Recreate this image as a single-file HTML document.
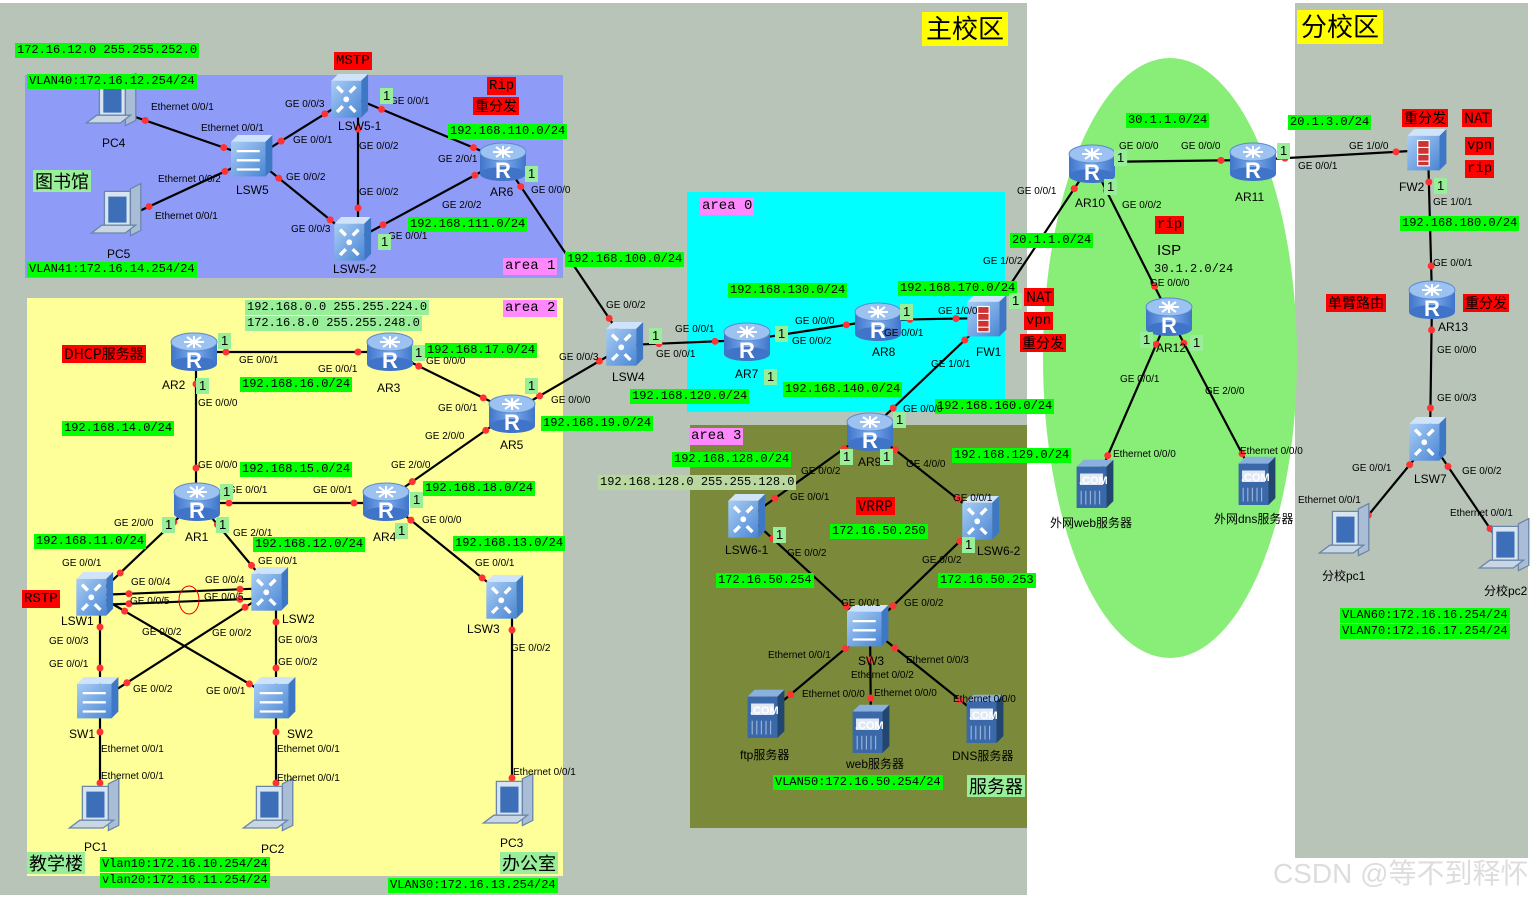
<!DOCTYPE html>
<html><head><meta charset="utf-8">
<style>
body{margin:0;width:1537px;height:898px;overflow:hidden;background:#fff;position:relative;font-family:"Liberation Sans","Noto Sans CJK SC",sans-serif}
.a{position:absolute}
.g,.r,.p,.lg{position:absolute;font-family:"Liberation Mono","Noto Sans CJK SC",monospace;font-size:12px;line-height:15px;padding:0 2px;white-space:nowrap;color:#000}
.g{background:#00ff00}
.lg{background:#99ee99}
.r{background:#ff0000;font-size:14px;line-height:18px}
.p{background:#ff88ff;font-size:14px;line-height:17px}
.t{position:absolute;font-size:10px;white-space:nowrap;color:#000;line-height:11px}
.n{position:absolute;font-size:12px;white-space:nowrap;color:#000}
.y{position:absolute;background:#ffff00;font-size:26px;line-height:34px;padding:0 4px;font-family:"Liberation Sans","Noto Sans CJK SC",sans-serif}
.big{position:absolute;background:#99ee99;font-size:18px;line-height:22px;padding:0 2px;font-family:"Noto Sans CJK SC",sans-serif}
.one{position:absolute;background:#99ee99;font-size:13px;line-height:16px;padding:0 3px}
</style></head><body>
<svg class="a" style="left:0;top:0" width="1537" height="898" viewBox="0 0 1537 898">
<defs>
<linearGradient id="rg" x1="0" x2="1"><stop offset="0" stop-color="#3f74c8"/><stop offset=".5" stop-color="#7eaef0"/><stop offset="1" stop-color="#3f74c8"/></linearGradient>
<linearGradient id="sg" x1="0" y1="0" x2="1" y2="1"><stop offset="0" stop-color="#a8cdf5"/><stop offset="1" stop-color="#4a86d4"/></linearGradient>
<g id="rt"><rect x="-23" y="-8" width="46" height="22" fill="url(#rg)"/><ellipse cx="0" cy="14" rx="23" ry="7" fill="#3f74c8"/><ellipse cx="0" cy="-8" rx="23" ry="9" fill="#9cc2f2" stroke="#5a8ad0"/><path d="M-10 -8h20M0 -14v12M-7 -13l14 10M7 -13l-14 10" stroke="#fff" stroke-width="2"/></g>
<g id="sw"><g transform="scale(1.15)"><path d="M-18 -14l6 -6h26l-6 6z" fill="#cfe3fa"/><path d="M8 -14l6 -6v32l-6 6z" fill="#3e78c4"/><rect x="-18" y="-14" width="26" height="32" fill="url(#sg)"/><path d="M-13 -9l5 5M3 -9l-5 5M-13 13l5 -5M3 13l-5 -5" stroke="#fff" stroke-width="3"/><circle cx="-5" cy="2" r="2.5" fill="#fff"/></g></g>
<g id="l2"><g transform="scale(1.15)"><path d="M-20 -14l6 -6h30l-6 6z" fill="#cfe3fa"/><path d="M10 -14l6 -6v30l-6 6z" fill="#3e78c4"/><rect x="-20" y="-14" width="30" height="30" fill="url(#sg)"/><path d="M-15 -6h20M-15 2h20M-15 10h20" stroke="#fff" stroke-width="2"/></g></g>
<g id="fw"><g transform="scale(1.15)"><path d="M-18 -14l6 -6h28l-6 6z" fill="#cfe3fa"/><path d="M10 -14l6 -6v30l-6 6z" fill="#3e78c4"/><rect x="-18" y="-14" width="28" height="30" fill="url(#sg)"/><rect x="-9" y="-10" width="10" height="22" fill="#c33" stroke="#fff"/><path d="M-9 -4h10M-9 2h10M-9 8h10" stroke="#fff"/></g></g>
<g id="pc"><g transform="scale(1.3)"><path d="M-12 -22h20v28h-20z" fill="#d8e4f0" stroke="#6a86a8"/><rect x="-9" y="-18" width="14" height="20" fill="#3c6fb8"/><path d="M8 -24l8 -4v36l-8 4z" fill="#a9bdd6" stroke="#6a86a8"/><path d="M-22 10h26l8 -6h-26z" fill="#c9d6e6" stroke="#6a86a8"/></g></g>
<g id="sv"><g transform="scale(1.15)"><path d="M-16 -16l6 -6h26l-6 6z" fill="#8ab0dd"/><path d="M10 -16l6 -6v36l-6 6z" fill="#23466f"/><rect x="-16" y="-16" width="26" height="36" fill="#3a68a8"/><rect x="-13" y="-10" width="20" height="10" fill="#dfe8f4"/><path d="M-12 5v12M-8 5v12M-4 5v12M0 5v12M4 5v12" stroke="#9bb4d8"/></g></g>
</defs>
<rect x="0" y="3" width="1027" height="892" fill="#b9c4b9"/>
<rect x="1295" y="3" width="233" height="855" fill="#b9c4b9"/>
<rect x="25" y="75" width="538" height="203" fill="#8e9cf8"/>
<rect x="27" y="298" width="536" height="578" fill="#ffff99"/>
<rect x="687" y="192" width="318" height="220" fill="#00ffff"/>
<rect x="690" y="425" width="337" height="403" fill="#7a8a3a"/>
<ellipse cx="1170" cy="358" rx="127" ry="300" fill="#88ee77"/>
<g stroke="#000" stroke-width="2.2" fill="none" id="lines">
<line x1="115" y1="110" x2="254" y2="158"/><line x1="120" y1="220" x2="254" y2="158"/>
<line x1="254" y1="158" x2="352" y2="97"/><line x1="254" y1="158" x2="355" y2="240"/>
<line x1="358" y1="97" x2="358" y2="240"/><line x1="352" y1="97" x2="503" y2="160"/>
<line x1="355" y1="240" x2="503" y2="160"/><line x1="503" y1="160" x2="627" y2="345"/>
<line x1="627" y1="345" x2="512" y2="412"/><line x1="627" y1="345" x2="747" y2="340"/>
<line x1="747" y1="340" x2="878" y2="320"/><line x1="878" y1="320" x2="988" y2="318"/>
<line x1="988" y1="318" x2="1092" y2="162"/><line x1="988" y1="318" x2="870" y2="430"/>
<line x1="1092" y1="162" x2="1253" y2="160"/><line x1="1092" y1="162" x2="1169" y2="315"/>
<line x1="1253" y1="160" x2="1428" y2="150"/><line x1="1428" y1="150" x2="1432" y2="298"/>
<line x1="1432" y1="298" x2="1430" y2="440"/><line x1="1430" y1="440" x2="1348" y2="540"/>
<line x1="1430" y1="440" x2="1508" y2="555"/><line x1="1169" y1="315" x2="1095" y2="485"/>
<line x1="1169" y1="315" x2="1257" y2="482"/><line x1="870" y1="430" x2="749" y2="517"/>
<line x1="870" y1="430" x2="983" y2="519"/><line x1="749" y1="517" x2="870" y2="628"/>
<line x1="983" y1="519" x2="870" y2="628"/><line x1="870" y1="628" x2="766" y2="715"/>
<line x1="870" y1="628" x2="871" y2="730"/><line x1="870" y1="628" x2="985" y2="720"/>
<line x1="194" y1="352" x2="390" y2="352"/><line x1="196" y1="352" x2="196" y2="500"/>
<line x1="390" y1="352" x2="512" y2="412"/><line x1="197" y1="503" x2="386" y2="503"/>
<line x1="386" y1="500" x2="512" y2="412"/><line x1="197" y1="500" x2="97" y2="595"/>
<line x1="197" y1="500" x2="272" y2="590"/><line x1="386" y1="500" x2="507" y2="598"/>
<line x1="97" y1="595" x2="272" y2="588"/><line x1="97" y1="605" x2="272" y2="598"/>
<line x1="97" y1="595" x2="277" y2="700"/><line x1="272" y1="590" x2="100" y2="700"/>
<line x1="100" y1="595" x2="100" y2="700"/><line x1="276" y1="590" x2="276" y2="700"/>
<line x1="100" y1="700" x2="100" y2="815"/><line x1="276" y1="700" x2="276" y2="815"/>
<line x1="512" y1="598" x2="512" y2="810"/>
</g>
<g id="dots" fill="#ff3333"></g>
<ellipse cx="189" cy="600" rx="10" ry="14" fill="none" stroke="#e00"/>
<g font-family="Liberation Sans" font-weight="bold" font-size="22" fill="#fff" text-anchor="middle">
<use href="#rt" x="197" y="500"/><text x="197" y="518">R</text>
<use href="#rt" x="194" y="350"/><text x="194" y="368">R</text>
<use href="#rt" x="390" y="350"/><text x="390" y="368">R</text>
<use href="#rt" x="386" y="500"/><text x="386" y="518">R</text>
<use href="#rt" x="512" y="412"/><text x="512" y="430">R</text>
<use href="#rt" x="503" y="160"/><text x="503" y="178">R</text>
<use href="#rt" x="747" y="340"/><text x="747" y="358">R</text>
<use href="#rt" x="878" y="320"/><text x="878" y="338">R</text>
<use href="#rt" x="870" y="430"/><text x="870" y="448">R</text>
<use href="#rt" x="1092" y="162"/><text x="1092" y="180">R</text>
<use href="#rt" x="1253" y="160"/><text x="1253" y="178">R</text>
<use href="#rt" x="1169" y="315"/><text x="1169" y="333">R</text>
<use href="#rt" x="1432" y="298"/><text x="1432" y="316">R</text>
</g>
<use href="#sw" x="352" y="97"/><use href="#sw" x="355" y="240"/><use href="#l2" x="254" y="158"/>
<use href="#sw" x="627" y="345"/><use href="#sw" x="97" y="595"/><use href="#sw" x="272" y="590"/>
<use href="#sw" x="507" y="598"/><use href="#l2" x="100" y="700"/><use href="#l2" x="277" y="700"/>
<use href="#sw" x="749" y="517"/><use href="#sw" x="983" y="519"/><use href="#l2" x="870" y="628"/>
<use href="#sw" x="1430" y="440"/><use href="#fw" x="1428" y="152"/><use href="#fw" x="988" y="318"/>
<use href="#pc" x="115" y="110"/><use href="#pc" x="120" y="220"/><use href="#pc" x="98" y="815"/>
<use href="#pc" x="272" y="815"/><use href="#pc" x="512" y="810"/><use href="#pc" x="1348" y="540"/><use href="#pc" x="1508" y="555"/>
<g font-family="Liberation Sans" font-weight="bold" font-size="11" fill="#fff">
<use href="#sv" x="1095" y="485"/><text x="1079" y="484">.COM</text>
<use href="#sv" x="1257" y="482"/><text x="1241" y="481">.COM</text>
<use href="#sv" x="766" y="715"/><text x="750" y="714">.COM</text>
<use href="#sv" x="871" y="730"/><text x="855" y="729">.COM</text>
<use href="#sv" x="985" y="720"/><text x="969" y="719">.COM</text>
</g>
</svg>
<script>
(function(){var L=document.querySelectorAll('#lines line'),D=document.getElementById('dots'),ns='http://www.w3.org/2000/svg';
L.forEach(function(l){var x1=+l.getAttribute('x1'),y1=+l.getAttribute('y1'),x2=+l.getAttribute('x2'),y2=+l.getAttribute('y2');var d=Math.hypot(x2-x1,y2-y1);if(d<80)return;[[x1,y1,1],[x2,y2,-1]].forEach(function(p){var k=32/d*p[2];var c=document.createElementNS(ns,'circle');c.setAttribute('cx',p[0]+(x2-x1)*k);c.setAttribute('cy',p[1]+(y2-y1)*k);c.setAttribute('r',3.5);D.appendChild(c);});});})();
</script>

<div class="y" style="left:922px;top:12px">主校区</div>
<div class="y" style="left:1297px;top:10px">分校区</div>
<div class="big" style="left:33px;top:170px">图书馆</div>
<div class="big" style="left:27px;top:852px">教学楼</div>
<div class="big" style="left:500px;top:852px">办公室</div>
<div class="big" style="left:967px;top:775px">服务器</div>
<div class="n" style="left:1157px;top:242px;font-size:15px">ISP</div>
<div class="a" style="left:1273px;top:852px;font-size:28px;color:#ddd">CSDN @等不到释怀</div>

<div class="g" style="left:15px;top:43px">172.16.12.0 255.255.252.0</div>
<div class="g" style="left:27px;top:74px">VLAN40:172.16.12.254/24</div>
<div class="g" style="left:27px;top:262px">VLAN41:172.16.14.254/24</div>
<div class="g" style="left:448px;top:124px">192.168.110.0/24</div>
<div class="g" style="left:408px;top:217px">192.168.111.0/24</div>
<div class="g" style="left:565px;top:252px">192.168.100.0/24</div>
<div class="lg" style="left:245px;top:300px">192.168.0.0 255.255.224.0</div>
<div class="lg" style="left:245px;top:316px">172.16.8.0 255.255.248.0</div>
<div class="g" style="left:425px;top:343px">192.168.17.0/24</div>
<div class="g" style="left:240px;top:377px">192.168.16.0/24</div>
<div class="g" style="left:62px;top:421px">192.168.14.0/24</div>
<div class="g" style="left:541px;top:416px">192.168.19.0/24</div>
<div class="g" style="left:240px;top:462px">192.168.15.0/24</div>
<div class="g" style="left:423px;top:481px">192.168.18.0/24</div>
<div class="g" style="left:34px;top:534px">192.168.11.0/24</div>
<div class="g" style="left:253px;top:537px">192.168.12.0/24</div>
<div class="g" style="left:453px;top:536px">192.168.13.0/24</div>
<div class="g" style="left:100px;top:857px">Vlan10:172.16.10.254/24</div>
<div class="g" style="left:100px;top:873px">vlan20:172.16.11.254/24</div>
<div class="g" style="left:388px;top:878px">VLAN30:172.16.13.254/24</div>
<div class="g" style="left:728px;top:283px">192.168.130.0/24</div>
<div class="g" style="left:898px;top:281px">192.168.170.0/24</div>
<div class="g" style="left:630px;top:389px">192.168.120.0/24</div>
<div class="g" style="left:783px;top:382px">192.168.140.0/24</div>
<div class="g" style="left:935px;top:399px">192.168.160.0/24</div>
<div class="g" style="left:672px;top:452px">192.168.128.0/24</div>
<div class="lg" style="left:598px;top:475px;background:#b8d8a0">192.168.128.0 255.255.128.0</div>
<div class="g" style="left:952px;top:448px">192.168.129.0/24</div>
<div class="g" style="left:830px;top:524px">172.16.50.250</div>
<div class="g" style="left:716px;top:573px">172.16.50.254</div>
<div class="g" style="left:938px;top:573px">172.16.50.253</div>
<div class="g" style="left:773px;top:775px">VLAN50:172.16.50.254/24</div>
<div class="g" style="left:1126px;top:113px">30.1.1.0/24</div>
<div class="g" style="left:1010px;top:233px">20.1.1.0/24</div>
<div class="g" style="left:1288px;top:115px">20.1.3.0/24</div>
<div class="g" style="left:1400px;top:216px">192.168.180.0/24</div>
<div class="g" style="left:1340px;top:608px">VLAN60:172.16.16.254/24</div>
<div class="g" style="left:1340px;top:624px">VLAN70:172.16.17.254/24</div>
<div class="lg" style="left:1152px;top:262px;background:none">30.1.2.0/24</div>

<div class="r" style="left:334px;top:52px">MSTP</div>
<div class="r" style="left:487px;top:77px">Rip</div>
<div class="r" style="left:473px;top:97px;font-family:'Noto Sans CJK SC',sans-serif">重分发</div>
<div class="r" style="left:62px;top:345px;font-family:'Noto Sans CJK SC',sans-serif">DHCP服务器</div>
<div class="r" style="left:22px;top:590px">RSTP</div>
<div class="r" style="left:1024px;top:288px;font-family:'Noto Sans CJK SC',sans-serif">NAT</div>
<div class="r" style="left:1024px;top:312px">vpn</div>
<div class="r" style="left:1020px;top:334px;font-family:'Noto Sans CJK SC',sans-serif">重分发</div>
<div class="r" style="left:856px;top:497px;font-family:'Noto Sans CJK SC',sans-serif">VRRP</div>
<div class="r" style="left:1155px;top:216px">rip</div>
<div class="r" style="left:1402px;top:109px;font-family:'Noto Sans CJK SC',sans-serif">重分发</div>
<div class="r" style="left:1462px;top:109px;font-family:'Noto Sans CJK SC',sans-serif">NAT</div>
<div class="r" style="left:1465px;top:137px">vpn</div>
<div class="r" style="left:1465px;top:160px">rip</div>
<div class="r" style="left:1326px;top:294px;font-family:'Noto Sans CJK SC',sans-serif">单臂路由</div>
<div class="r" style="left:1463px;top:294px;font-family:'Noto Sans CJK SC',sans-serif">重分发</div>
<div class="p" style="left:503px;top:258px">area 1</div>
<div class="p" style="left:503px;top:300px">area 2</div>
<div class="p" style="left:689px;top:428px">area 3</div>
<div class="p" style="left:700px;top:198px">area 0</div>

<div class="n" style="left:102px;top:136px">PC4</div><div class="n" style="left:107px;top:247px">PC5</div>
<div class="n" style="left:236px;top:183px">LSW5</div><div class="n" style="left:338px;top:119px">LSW5-1</div>
<div class="n" style="left:333px;top:262px">LSW5-2</div><div class="n" style="left:490px;top:185px">AR6</div>
<div class="n" style="left:162px;top:378px">AR2</div><div class="n" style="left:377px;top:381px">AR3</div>
<div class="n" style="left:500px;top:438px">AR5</div><div class="n" style="left:185px;top:530px">AR1</div>
<div class="n" style="left:373px;top:530px">AR4</div><div class="n" style="left:612px;top:370px">LSW4</div>
<div class="n" style="left:61px;top:614px">LSW1</div><div class="n" style="left:282px;top:612px">LSW2</div>
<div class="n" style="left:467px;top:622px">LSW3</div><div class="n" style="left:69px;top:727px">SW1</div>
<div class="n" style="left:287px;top:727px">SW2</div><div class="n" style="left:84px;top:840px">PC1</div>
<div class="n" style="left:261px;top:842px">PC2</div><div class="n" style="left:500px;top:836px">PC3</div>
<div class="n" style="left:735px;top:367px">AR7</div><div class="n" style="left:872px;top:345px">AR8</div>
<div class="n" style="left:976px;top:345px">FW1</div><div class="n" style="left:858px;top:455px">AR9</div>
<div class="n" style="left:725px;top:543px">LSW6-1</div><div class="n" style="left:977px;top:544px">LSW6-2</div>
<div class="n" style="left:858px;top:654px">SW3</div><div class="n" style="left:740px;top:746px">ftp服务器</div>
<div class="n" style="left:846px;top:755px">web服务器</div><div class="n" style="left:952px;top:747px">DNS服务器</div>
<div class="n" style="left:1075px;top:196px">AR10</div><div class="n" style="left:1235px;top:190px">AR11</div>
<div class="n" style="left:1156px;top:341px">AR12</div><div class="n" style="left:1050px;top:514px">外网web服务器</div>
<div class="n" style="left:1214px;top:510px">外网dns服务器</div><div class="n" style="left:1399px;top:180px">FW2</div>
<div class="n" style="left:1438px;top:320px">AR13</div><div class="n" style="left:1414px;top:472px">LSW7</div>
<div class="n" style="left:1322px;top:567px">分校pc1</div><div class="n" style="left:1484px;top:582px">分校pc2</div>

<div class="t" style="left:151px;top:102px">Ethernet 0/0/1</div>
<div class="t" style="left:201px;top:123px">Ethernet 0/0/1</div>
<div class="t" style="left:158px;top:174px">Ethernet 0/0/2</div>
<div class="t" style="left:155px;top:211px">Ethernet 0/0/1</div>
<div class="t" style="left:285px;top:99px">GE 0/0/3</div>
<div class="t" style="left:390px;top:96px">GE 0/0/1</div>
<div class="t" style="left:293px;top:135px">GE 0/0/1</div>
<div class="t" style="left:359px;top:141px">GE 0/0/2</div>
<div class="t" style="left:286px;top:172px">GE 0/0/2</div>
<div class="t" style="left:359px;top:187px">GE 0/0/2</div>
<div class="t" style="left:291px;top:224px">GE 0/0/3</div>
<div class="t" style="left:388px;top:231px">GE 0/0/1</div>
<div class="t" style="left:438px;top:154px">GE 2/0/1</div>
<div class="t" style="left:442px;top:200px">GE 2/0/2</div>
<div class="t" style="left:531px;top:185px">GE 0/0/0</div>
<div class="t" style="left:606px;top:300px">GE 0/0/2</div>
<div class="t" style="left:559px;top:352px">GE 0/0/3</div>
<div class="t" style="left:675px;top:324px">GE 0/0/1</div>
<div class="t" style="left:656px;top:349px">GE 0/0/1</div>
<div class="t" style="left:795px;top:316px">GE 0/0/0</div>
<div class="t" style="left:792px;top:336px">GE 0/0/2</div>
<div class="t" style="left:884px;top:328px">GE 0/0/1</div>
<div class="t" style="left:938px;top:306px">GE 1/0/0</div>
<div class="t" style="left:931px;top:359px">GE 1/0/1</div>
<div class="t" style="left:983px;top:256px">GE 1/0/2</div>
<div class="t" style="left:1017px;top:186px">GE 0/0/1</div>
<div class="t" style="left:1119px;top:141px">GE 0/0/0</div>
<div class="t" style="left:1181px;top:141px">GE 0/0/0</div>
<div class="t" style="left:1122px;top:200px">GE 0/0/2</div>
<div class="t" style="left:1298px;top:161px">GE 0/0/1</div>
<div class="t" style="left:1349px;top:141px">GE 1/0/0</div>
<div class="t" style="left:1433px;top:197px">GE 1/0/1</div>
<div class="t" style="left:1433px;top:258px">GE 0/0/1</div>
<div class="t" style="left:1437px;top:345px">GE 0/0/0</div>
<div class="t" style="left:1437px;top:393px">GE 0/0/3</div>
<div class="t" style="left:1352px;top:463px">GE 0/0/1</div>
<div class="t" style="left:1462px;top:466px">GE 0/0/2</div>
<div class="t" style="left:1298px;top:495px">Ethernet 0/0/1</div>
<div class="t" style="left:1450px;top:508px">Ethernet 0/0/1</div>
<div class="t" style="left:1150px;top:278px">GE 0/0/0</div>
<div class="t" style="left:1120px;top:374px">GE 0/0/1</div>
<div class="t" style="left:1205px;top:386px">GE 2/0/0</div>
<div class="t" style="left:1113px;top:449px">Ethernet 0/0/0</div>
<div class="t" style="left:1240px;top:446px">Ethernet 0/0/0</div>
<div class="t" style="left:903px;top:404px">GE 0/0/0</div>
<div class="t" style="left:801px;top:466px">GE 0/0/2</div>
<div class="t" style="left:906px;top:459px">GE 4/0/0</div>
<div class="t" style="left:790px;top:492px">GE 0/0/1</div>
<div class="t" style="left:953px;top:493px">GE 0/0/1</div>
<div class="t" style="left:787px;top:548px">GE 0/0/2</div>
<div class="t" style="left:922px;top:555px">GE 0/0/2</div>
<div class="t" style="left:841px;top:598px">GE 0/0/1</div>
<div class="t" style="left:904px;top:598px">GE 0/0/2</div>
<div class="t" style="left:768px;top:650px">Ethernet 0/0/1</div>
<div class="t" style="left:906px;top:655px">Ethernet 0/0/3</div>
<div class="t" style="left:851px;top:670px">Ethernet 0/0/2</div>
<div class="t" style="left:802px;top:689px">Ethernet 0/0/0</div>
<div class="t" style="left:874px;top:688px">Ethernet 0/0/0</div>
<div class="t" style="left:953px;top:694px">Ethernet 0/0/0</div>
<div class="t" style="left:239px;top:355px">GE 0/0/1</div>
<div class="t" style="left:318px;top:364px">GE 0/0/1</div>
<div class="t" style="left:426px;top:356px">GE 0/0/0</div>
<div class="t" style="left:198px;top:398px">GE 0/0/0</div>
<div class="t" style="left:438px;top:403px">GE 0/0/1</div>
<div class="t" style="left:551px;top:395px">GE 0/0/0</div>
<div class="t" style="left:425px;top:431px">GE 2/0/0</div>
<div class="t" style="left:198px;top:460px">GE 0/0/0</div>
<div class="t" style="left:391px;top:460px">GE 2/0/0</div>
<div class="t" style="left:228px;top:485px">GE 0/0/1</div>
<div class="t" style="left:313px;top:485px">GE 0/0/1</div>
<div class="t" style="left:114px;top:518px">GE 2/0/0</div>
<div class="t" style="left:233px;top:528px">GE 2/0/1</div>
<div class="t" style="left:422px;top:515px">GE 0/0/0</div>
<div class="t" style="left:62px;top:558px">GE 0/0/1</div>
<div class="t" style="left:258px;top:556px">GE 0/0/1</div>
<div class="t" style="left:475px;top:558px">GE 0/0/1</div>
<div class="t" style="left:131px;top:577px">GE 0/0/4</div>
<div class="t" style="left:205px;top:575px">GE 0/0/4</div>
<div class="t" style="left:130px;top:596px">GE 0/0/5</div>
<div class="t" style="left:204px;top:592px">GE 0/0/5</div>
<div class="t" style="left:142px;top:627px">GE 0/0/2</div>
<div class="t" style="left:212px;top:628px">GE 0/0/2</div>
<div class="t" style="left:49px;top:636px">GE 0/0/3</div>
<div class="t" style="left:278px;top:635px">GE 0/0/3</div>
<div class="t" style="left:49px;top:659px">GE 0/0/1</div>
<div class="t" style="left:278px;top:657px">GE 0/0/2</div>
<div class="t" style="left:133px;top:684px">GE 0/0/2</div>
<div class="t" style="left:206px;top:686px">GE 0/0/1</div>
<div class="t" style="left:511px;top:643px">GE 0/0/2</div>
<div class="t" style="left:101px;top:744px">Ethernet 0/0/1</div>
<div class="t" style="left:277px;top:744px">Ethernet 0/0/1</div>
<div class="t" style="left:101px;top:771px">Ethernet 0/0/1</div>
<div class="t" style="left:277px;top:773px">Ethernet 0/0/1</div>
<div class="t" style="left:513px;top:767px">Ethernet 0/0/1</div>

<div class="one" style="left:380px;top:88px">1</div><div class="one" style="left:525px;top:166px">1</div>
<div class="one" style="left:378px;top:234px">1</div><div class="one" style="left:218px;top:333px">1</div>
<div class="one" style="left:196px;top:378px">1</div><div class="one" style="left:412px;top:345px">1</div>
<div class="one" style="left:525px;top:378px">1</div><div class="one" style="left:220px;top:484px">1</div>
<div class="one" style="left:162px;top:517px">1</div><div class="one" style="left:216px;top:517px">1</div>
<div class="one" style="left:410px;top:492px">1</div><div class="one" style="left:395px;top:523px">1</div>
<div class="one" style="left:649px;top:328px">1</div><div class="one" style="left:775px;top:326px">1</div>
<div class="one" style="left:764px;top:369px">1</div><div class="one" style="left:900px;top:304px">1</div>
<div class="one" style="left:1009px;top:293px">1</div><div class="one" style="left:840px;top:449px">1</div>
<div class="one" style="left:880px;top:449px">1</div><div class="one" style="left:893px;top:412px">1</div>
<div class="one" style="left:773px;top:527px">1</div><div class="one" style="left:962px;top:537px">1</div>
<div class="one" style="left:1114px;top:150px">1</div><div class="one" style="left:1104px;top:179px">1</div>
<div class="one" style="left:1277px;top:143px">1</div><div class="one" style="left:1434px;top:178px">1</div>
<div class="one" style="left:1140px;top:332px">1</div><div class="one" style="left:1190px;top:335px">1</div>
</body></html>
